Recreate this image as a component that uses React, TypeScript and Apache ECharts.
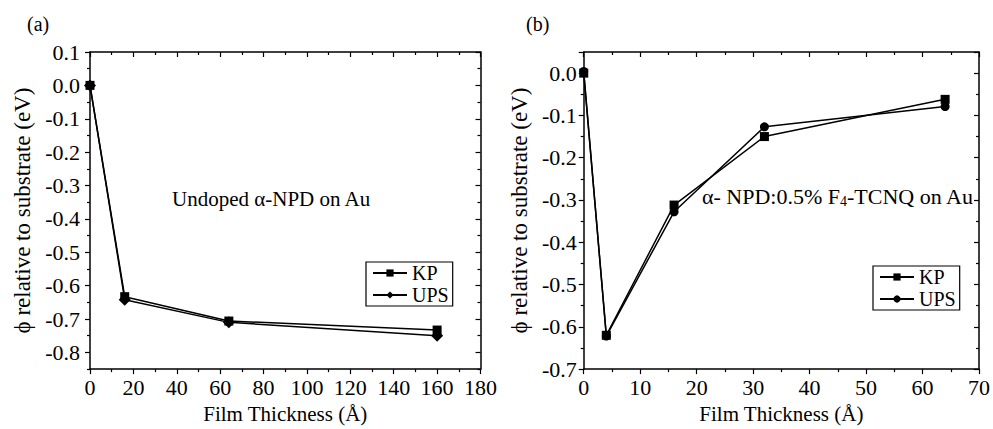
import React, { useEffect, useRef } from "react";
import * as echarts from "echarts";

// Panel (a): Undoped α-NPD on Au
const thickA = [0, 16, 64, 160];
const kpA = [0.0, -0.633, -0.706, -0.733];
const upsA = [0.0, -0.642, -0.71, -0.75];
const yLabelsA = [-0.8, -0.7, -0.6, -0.5, -0.4, -0.3, -0.2, -0.1, 0.0, 0.1];
const yMinorA = [-0.85, -0.75, -0.65, -0.55, -0.45, -0.35, -0.25, -0.15, -0.05, 0.05];

// Panel (b): α-NPD:0.5% F4-TCNQ on Au
const thickB = [0, 4, 16, 32, 64];
const kpB = [0.0, -0.62, -0.312, -0.15, -0.062];
const upsB = [0.004, -0.622, -0.328, -0.127, -0.079];

const FONT = "Liberation Serif";
const BLACK = "#000";
const TICK_FS = 22;

function pairs(xs: number[], ys: number[]) {
  return xs.map((x, i) => [x, ys[i]]);
}

function frameX(min: number, max: number, interval: number, show: boolean, name?: string) {
  const base: any = {
    type: "value",
    min,
    max,
    interval,
    axisLine: { show: true, onZero: false, lineStyle: { color: BLACK, width: 1.5 } },
    splitLine: { show: false },
    minorTick: { show: true, splitNumber: 2, length: 3, lineStyle: { color: BLACK, width: 1.2 } },
    axisTick: { show: true, length: 5, inside: !show, lineStyle: { color: BLACK, width: 1.2 } },
  };
  if (show) {
    base.position = "bottom";
    base.axisLabel = { show: true, color: BLACK, fontFamily: FONT, fontSize: TICK_FS, margin: 7 };
    base.name = name;
    base.nameLocation = "middle";
    base.nameGap = 30;
    base.nameTextStyle = { color: BLACK, fontFamily: FONT, fontSize: 21 };
  } else {
    base.position = "top";
    base.axisLabel = { show: false };
  }
  return base;
}

const Y_NAME = "ϕ relative to substrate (eV)";

function buildA(): any {
  const yCommon = (pos: "left" | "right", major: boolean, showLabels: boolean) => ({
    type: "value",
    position: pos,
    min: -0.85,
    max: 0.1,
    axisLine: { show: major, onZero: false, lineStyle: { color: BLACK, width: 1.5 } },
    splitLine: { show: false },
    axisTick: {
      show: true,
      inside: pos === "right",
      length: major ? 5 : 3,
      customValues: major ? yLabelsA : yMinorA,
      lineStyle: { color: BLACK, width: 1.2 },
    },
    axisLabel: showLabels
      ? {
          show: true,
          customValues: yLabelsA,
          color: BLACK,
          fontFamily: FONT,
          fontSize: TICK_FS,
          margin: 10,
          formatter: (v: number) => v.toFixed(1),
        }
      : { show: false, customValues: major ? yLabelsA : yMinorA },
    ...(showLabels
      ? {
          name: Y_NAME,
          nameLocation: "middle",
          nameGap: 53,
          nameTextStyle: { color: BLACK, fontFamily: FONT, fontSize: 23 },
        }
      : {}),
  });
  return {
    animation: false,
    backgroundColor: "#fff",
    textStyle: { fontFamily: FONT },
    grid: { left: 90, right: 11, top: 52, bottom: 56 },
    xAxis: [frameX(0, 180, 20, true, "Film Thickness (Å)"), frameX(0, 180, 20, false)],
    yAxis: [
      yCommon("left", true, true),
      yCommon("left", false, false),
      yCommon("right", true, false),
      yCommon("right", false, false),
    ],
    legend: {
      orient: "vertical",
      left: 366,
      top: 262,
      itemWidth: 34,
      itemHeight: 9,
      itemGap: 2,
      padding: [1, 4, 1, 6],
      borderColor: BLACK,
      borderWidth: 1.2,
      textStyle: { color: BLACK, fontFamily: FONT, fontSize: 20, lineHeight: 20 },
      data: ["KP", "UPS"],
    },
    graphic: [
      { type: "text", left: 27, top: 14, style: { text: "(a)", fontFamily: FONT, fontSize: 20, fill: BLACK } },
      {
        type: "text",
        left: 172,
        top: 188,
        style: { text: "Undoped α-NPD on Au", fontFamily: FONT, fontSize: 21, fill: BLACK },
      },
    ],
    series: [
      {
        name: "KP",
        type: "line",
        xAxisIndex: 0,
        yAxisIndex: 0,
        data: pairs(thickA, kpA),
        symbol: "rect",
        symbolSize: 9,
        lineStyle: { color: BLACK, width: 1.5 },
        itemStyle: { color: BLACK },
        z: 3,
      },
      {
        name: "UPS",
        type: "line",
        xAxisIndex: 0,
        yAxisIndex: 0,
        data: pairs(thickA, upsA),
        symbol: "diamond",
        symbolSize: 12,
        lineStyle: { color: BLACK, width: 1.5 },
        itemStyle: { color: BLACK },
        z: 3,
      },
    ],
  };
}

function buildB(): any {
  const yAx = (pos: "left" | "right") => ({
    type: "value",
    position: pos,
    min: -0.7,
    max: 0.05,
    interval: 0.1,
    axisLine: { show: true, onZero: false, lineStyle: { color: BLACK, width: 1.5 } },
    splitLine: { show: false },
    axisTick: { show: true, inside: pos === "right", length: 5, lineStyle: { color: BLACK, width: 1.2 } },
    minorTick: { show: true, splitNumber: 2, length: 3, lineStyle: { color: BLACK, width: 1.2 } },
    axisLabel:
      pos === "left"
        ? {
            show: true,
            showMaxLabel: false,
            color: BLACK,
            fontFamily: FONT,
            fontSize: TICK_FS,
            margin: 7,
            formatter: (v: number) => (Math.abs(v) < 1e-9 ? "0.0" : v.toFixed(1)),
          }
        : { show: false },
    ...(pos === "left"
      ? {
          name: Y_NAME,
          nameLocation: "middle",
          nameGap: 50,
          nameTextStyle: { color: BLACK, fontFamily: FONT, fontSize: 23 },
        }
      : {}),
  });
  return {
    animation: false,
    backgroundColor: "#fff",
    textStyle: { fontFamily: FONT },
    grid: { left: 83, right: 12, top: 52, bottom: 57 },
    xAxis: [frameX(0, 70, 10, true, "Film Thickness (Å)"), frameX(0, 70, 10, false)],
    yAxis: [yAx("left"), yAx("right")],
    legend: {
      orient: "vertical",
      left: 373,
      top: 266,
      itemWidth: 34,
      itemHeight: 9,
      itemGap: 2,
      padding: [1, 4, 1, 6],
      borderColor: BLACK,
      borderWidth: 1.2,
      textStyle: { color: BLACK, fontFamily: FONT, fontSize: 20, lineHeight: 20 },
      data: ["KP", "UPS"],
    },
    graphic: [
      { type: "text", left: 26, top: 14, style: { text: "(b)", fontFamily: FONT, fontSize: 20, fill: BLACK } },
      {
        type: "text",
        left: 202,
        top: 185,
        style: {
          text: "α- NPD:0.5% F{sub|4}-TCNQ on Au",
          fontFamily: FONT,
          fontSize: 22,
          fill: BLACK,
          rich: {
            sub: { fontFamily: FONT, fontSize: 14, fill: BLACK, padding: [10, 0, 0, 0] },
          },
        },
      },
    ],
    series: [
      {
        name: "KP",
        type: "line",
        data: pairs(thickB, kpB),
        symbol: "rect",
        symbolSize: 9,
        lineStyle: { color: BLACK, width: 1.5 },
        itemStyle: { color: BLACK },
        z: 3,
      },
      {
        name: "UPS",
        type: "line",
        data: pairs(thickB, upsB),
        symbol: "circle",
        symbolSize: 9,
        lineStyle: { color: BLACK, width: 1.5 },
        itemStyle: { color: BLACK },
        z: 3,
      },
    ],
  };
}

export default function App() {
  const refA = useRef<HTMLDivElement>(null);
  const refB = useRef<HTMLDivElement>(null);
  useEffect(() => {
    document.body.style.margin = "0";
    const a = echarts.init(refA.current!, undefined, { renderer: "svg" });
    const b = echarts.init(refB.current!, undefined, { renderer: "svg" });
    a.setOption(buildA());
    b.setOption(buildB());
    return () => {
      a.dispose();
      b.dispose();
    };
  }, []);
  return (
    <div style={{ display: "flex", width: 993, height: 429, background: "#fff" }}>
      <div ref={refA} style={{ width: 500, height: 429 }} />
      <div ref={refB} style={{ width: 493, height: 429 }} />
    </div>
  );
}
